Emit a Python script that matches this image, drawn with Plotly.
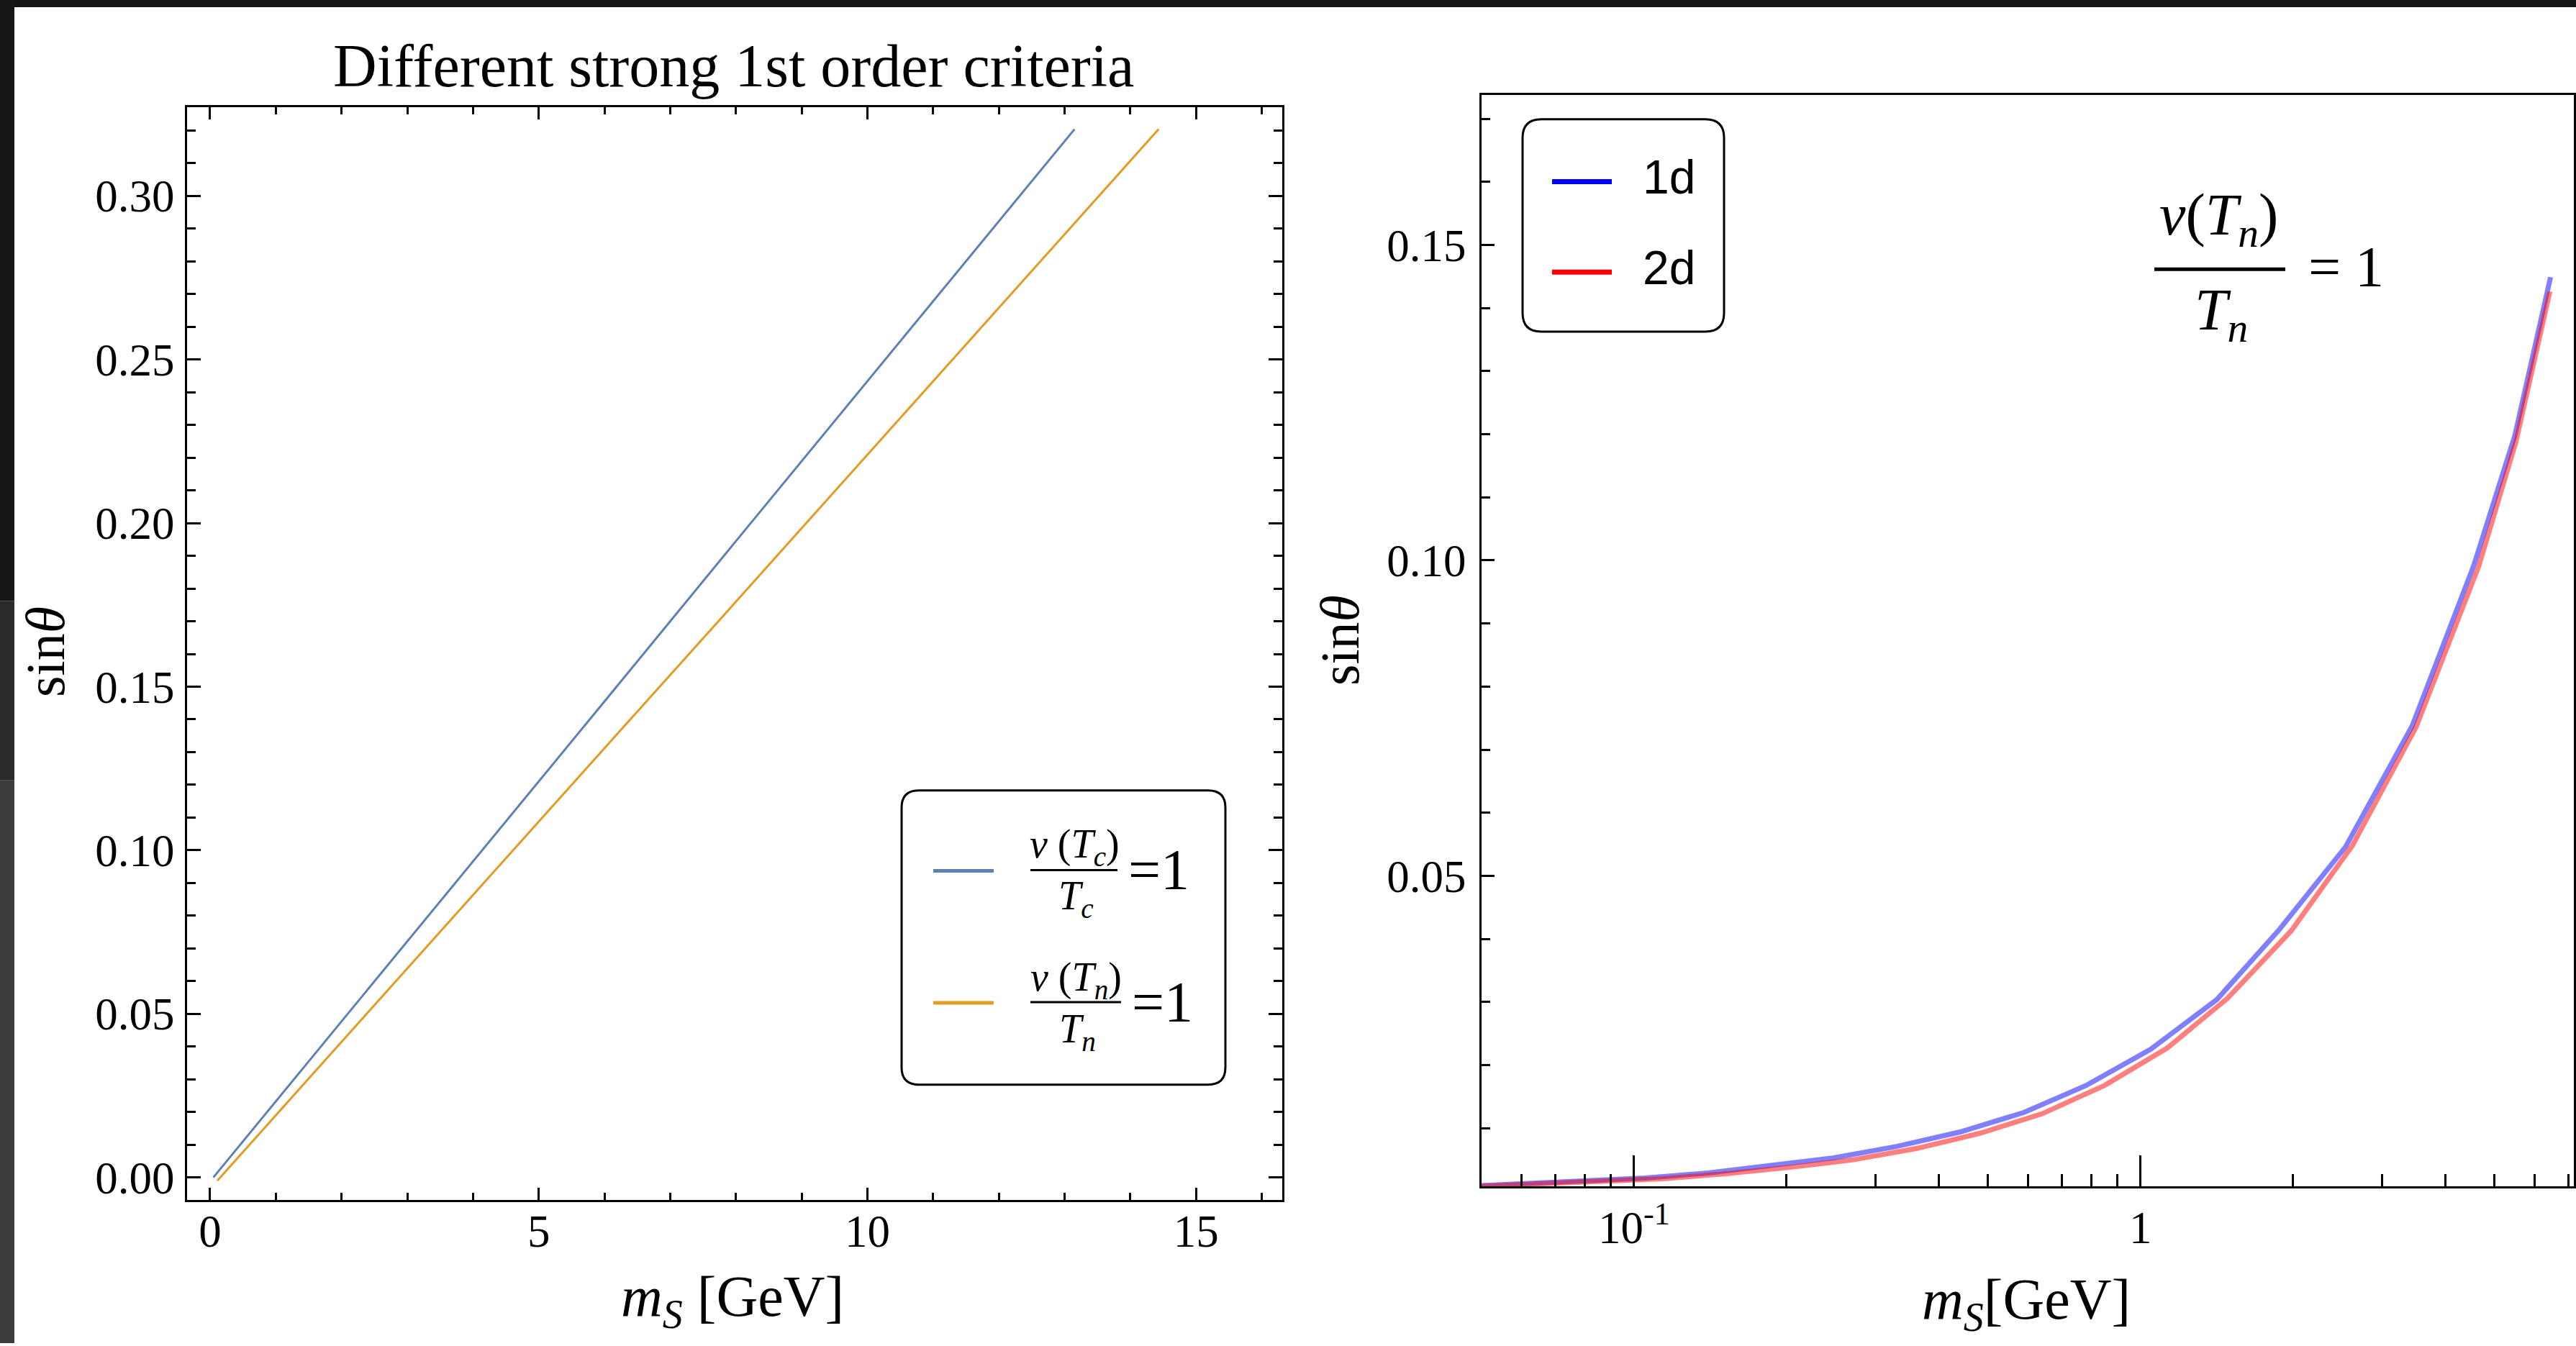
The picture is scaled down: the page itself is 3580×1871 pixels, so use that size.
import math
import plotly.graph_objects as go

# ---------------- data ----------------
# left panel: sin(theta) vs m_S [GeV]
ms_tc = [0.05, 1.0, 2.0, 4.0, 6.0, 8.0, 10.0, 12.0, 13.15]
sin_tc = [0.0, 0.0232, 0.0477, 0.0966, 0.1455, 0.1945, 0.2434, 0.2923, 0.3204]
ms_tn = [0.11, 1.0, 2.0, 4.0, 6.0, 8.0, 10.0, 12.0, 14.0, 14.43]
sin_tn = [-0.001, 0.019, 0.0414, 0.0863, 0.1312, 0.176, 0.2209, 0.2658, 0.3107, 0.3204]

# right panel: 1d and 2d
ms_1d = [0.05, 0.059, 0.079, 0.105, 0.14, 0.186, 0.248, 0.33, 0.44, 0.589, 0.782,
         1.047, 1.415, 1.88, 2.54, 3.44, 4.55, 5.48, 6.45]
sin_1d = [0.0009, 0.0012, 0.0016, 0.0021, 0.0029, 0.0040, 0.0053, 0.0071, 0.0094,
          0.0125, 0.0168, 0.0225, 0.0304, 0.0415, 0.0546, 0.0738, 0.0992, 0.1197, 0.1449]
ms_2d = [0.05, 0.063, 0.085, 0.114, 0.152, 0.203, 0.271, 0.362, 0.482, 0.64, 0.85,
         1.129, 1.485, 1.985, 2.62, 3.50, 4.65, 5.51, 6.43]
sin_2d = [0.0008, 0.0011, 0.0015, 0.0020, 0.0028, 0.0038, 0.0050, 0.0068, 0.0092,
          0.0123, 0.0168, 0.0227, 0.0306, 0.0413, 0.0548, 0.0736, 0.0990, 0.1188, 0.1426]

left_xticks = [0, 5, 10, 15]
left_yticks = [0.00, 0.05, 0.10, 0.15, 0.20, 0.25, 0.30]
right_xticks = [0.1, 1]
right_xticklabels = ["10<sup>-1</sup>", "1"]
right_xminor = [0.06, 0.07, 0.08, 0.09, 0.2, 0.3, 0.4, 0.5, 0.6, 0.7, 0.8, 0.9,
                2, 3, 4, 5, 6, 7]
right_yticks = [0.05, 0.10, 0.15]
right_yticklabels = ["0.05", "0.10", "0.15"]

# ---------------- layout helpers ----------------
W, H = 3580, 1871
SERIF = "Liberation Serif, Times New Roman, serif"
SANS = "Liberation Sans, Arial, sans-serif"


def px(x):
    return x / W


def py(y):
    return 1 - y / H


fig = go.Figure()
fig.add_trace(go.Scatter(x=ms_tc, y=sin_tc, mode="lines", xaxis="x", yaxis="y",
                         line=dict(color="#5E81B5", width=3), name="v(Tc)/Tc=1"))
fig.add_trace(go.Scatter(x=ms_tn, y=sin_tn, mode="lines", xaxis="x", yaxis="y",
                         line=dict(color="#E19C24", width=3), name="v(Tn)/Tn=1"))
fig.add_trace(go.Scatter(x=ms_1d, y=sin_1d, mode="lines", xaxis="x2", yaxis="y2",
                         line=dict(color="rgba(0,0,255,0.5)", width=7), name="1d"))
fig.add_trace(go.Scatter(x=ms_2d, y=sin_2d, mode="lines", xaxis="x2", yaxis="y2",
                         line=dict(color="rgba(255,0,0,0.5)", width=7), name="2d"))

tickfont = dict(family=SERIF, size=63, color="black")
common = dict(showline=True, linecolor="black", linewidth=3, ticks="inside",
              tickcolor="black", tickwidth=3, showgrid=False, zeroline=False,
              tickfont=tickfont)

xaxis = dict(common, domain=[px(260), px(1782)], range=[-0.35, 16.31], anchor="y",
             mirror="ticks", tickmode="array", tickvals=left_xticks, ticklen=17,
             ticklabelstandoff=-14,
             minor=dict(ticks="inside", ticklen=10, tickwidth=2.5, tickcolor="black",
                        dtick=1, tick0=0, showgrid=False))
yaxis = dict(common, domain=[py(1672), py(149)], range=[-0.007, 0.3272], anchor="x",
             mirror="ticks", tickmode="array", tickvals=left_yticks, tickformat=".2f",
             ticklen=19, ticklabelstandoff=2,
             minor=dict(ticks="inside", ticklen=12, tickwidth=2.5, tickcolor="black",
                        dtick=0.01, tick0=0, showgrid=False))
xaxis2 = dict(common, type="log", domain=[px(2059), px(3577)],
              range=[math.log10(0.05), math.log10(7.17)], anchor="y2", mirror=True,
              tickmode="array", tickvals=right_xticks, ticktext=right_xticklabels,
              ticklen=43, ticklabelstandoff=0,
              minor=dict(ticks="inside", ticklen=17, tickwidth=2.5, tickcolor="black",
                         tickmode="array", tickvals=right_xminor, showgrid=False))
yaxis2 = dict(common, domain=[py(1653), py(132)], range=[0.00074, 0.1738], anchor="x2",
              mirror=True, tickmode="array", tickvals=right_yticks,
              ticktext=right_yticklabels, ticklen=18, ticklabelstandoff=6,
              minor=dict(ticks="inside", ticklen=12, tickwidth=2.5, tickcolor="black",
                         dtick=0.01, tick0=0, showgrid=False))


def ann(text, x, y, size, family=SERIF, angle=0, xanchor="center"):
    return dict(text=text, x=px(x), y=py(y), xref="paper", yref="paper",
                xanchor=xanchor, yanchor="middle", showarrow=False, textangle=angle,
                font=dict(family=family, size=size, color="black"))


annotations = [
    ann("Different strong 1st order criteria", 1020, 92, 84),
    ann("<i>m</i><sub><i>S</i></sub> [GeV]", 1018, 1812, 80),
    ann("sin<i>θ</i>", 63, 908, 76, angle=-90),
    ann("<i>m</i><sub><i>S</i></sub>[GeV]", 2816, 1816, 80),
    ann("sin<i>θ</i>", 1862, 892, 76, angle=-90),
    # left legend entries
    ann("<i>v</i> (<i>T</i><sub><i>c</i></sub>)", 1493, 1180, 56),
    ann("<i>T</i><sub><i>c</i></sub>", 1495, 1252, 56),
    ann("=1", 1610, 1212, 80),
    ann("<i>v</i> (<i>T</i><sub><i>n</i></sub>)", 1495, 1365, 56),
    ann("<i>T</i><sub><i>n</i></sub>", 1497, 1437, 56),
    ann("=1", 1615, 1396, 80),
    # right legend entries
    ann("1d", 2319, 247, 66, family=SANS),
    ann("2d", 2319, 373, 66, family=SANS),
    # right formula
    ann("<i>v</i>(<i>T</i><sub><i>n</i></sub>)", 3083, 305, 82),
    ann("<i>T</i><sub><i>n</i></sub>", 3087, 437, 82),
    ann("= 1", 3260, 372, 80),
]


def rrect(x0, y0, x1, y1, r):
    rx, ry = r / W, r / H
    X0, X1 = px(x0), px(x1)
    Y0, Y1 = py(y0), py(y1)  # Y0 top (larger), Y1 bottom
    return (f"M {X0+rx},{Y0} L {X1-rx},{Y0} Q {X1},{Y0} {X1},{Y0-ry} "
            f"L {X1},{Y1+ry} Q {X1},{Y1} {X1-rx},{Y1} L {X0+rx},{Y1} "
            f"Q {X0},{Y1} {X0},{Y1+ry} L {X0},{Y0-ry} Q {X0},{Y0} {X0+rx},{Y0} Z")


def rect(x0, y0, x1, y1, color):
    return dict(type="rect", xref="paper", yref="paper", x0=px(x0), x1=px(x1),
                y0=py(y1), y1=py(y0), fillcolor=color, line=dict(width=0),
                layer="above")


def hline(x0, x1, y, color, width):
    return dict(type="line", xref="paper", yref="paper", x0=px(x0), x1=px(x1),
                y0=py(y), y1=py(y), line=dict(color=color, width=width), layer="above")


shapes = [
    # screenshot dark border
    rect(0, 0, W, 10, "#141414"),
    rect(0, 0, 20, 837, "#161616"),
    rect(0, 837, 20, 1087, "#2a2a2a"),
    rect(0, 1087, 20, H, "#3b3b3b"),
    # left legend
    dict(type="path", xref="paper", yref="paper", path=rrect(1253, 1101, 1703, 1511, 24),
         line=dict(color="black", width=3), fillcolor="white", layer="above"),
    hline(1297, 1381, 1213, "#5E81B5", 5),
    hline(1297, 1381, 1397, "#E19C24", 5),
    hline(1432, 1553, 1212, "black", 3),
    hline(1432, 1558, 1396, "black", 3),
    # right legend
    dict(type="path", xref="paper", yref="paper", path=rrect(2116, 166, 2396, 462, 26),
         line=dict(color="black", width=3), fillcolor="white", layer="above"),
    hline(2157, 2240, 253, "#0000FF", 7),
    hline(2157, 2240, 379, "#FF0000", 7),
    # right formula bar
    hline(2994, 3176, 375, "black", 5),
]

fig.update_layout(
    width=W, height=H, margin=dict(l=0, r=0, t=0, b=0),
    paper_bgcolor="white", plot_bgcolor="white", showlegend=False,
    xaxis=xaxis, yaxis=yaxis, xaxis2=xaxis2, yaxis2=yaxis2,
    annotations=annotations, shapes=shapes,
)

fig.write_html("out.html")
